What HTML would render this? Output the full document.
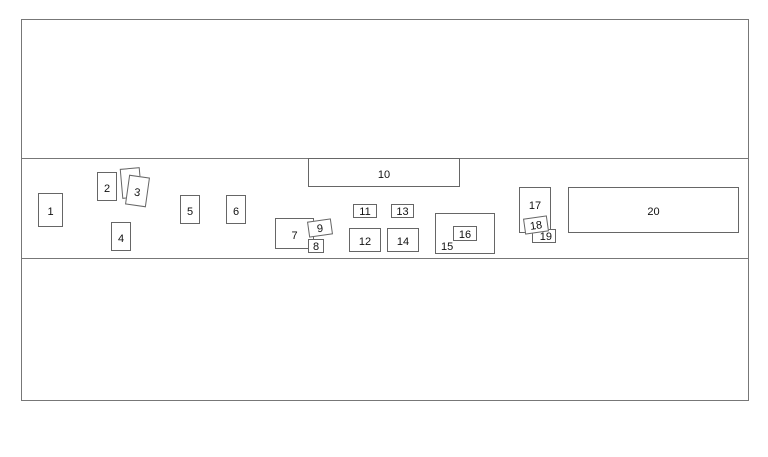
<!DOCTYPE html>
<html><head><style>
body{margin:0;width:768px;height:457px;background:#fff;position:relative;overflow:hidden;font-family:"Liberation Sans",sans-serif;font-size:11px;color:#111}
.b{position:absolute;box-sizing:border-box;border:1px solid #666;background:#fff;display:flex;align-items:center;justify-content:center;padding-top:4px}
.l{position:absolute;left:21px;width:727px;height:1px;background:#777}
</style></head><body>
<div class="b" style="left:21px;top:19px;width:728px;height:382px;border-color:#777"></div>
<div class="l" style="top:158px"></div>
<div class="l" style="top:258px"></div>
<div class="b" style="left:38px;top:193px;width:25px;height:34px">1</div>
<div class="b" style="left:97px;top:172px;width:20px;height:29px">2</div>
<div class="b" style="left:121px;top:168px;width:20px;height:30px;transform:rotate(-5deg)"></div>
<div class="b" style="left:127px;top:176px;width:21px;height:30px;transform:rotate(8deg)">3</div>
<div class="b" style="left:111px;top:222px;width:20px;height:29px">4</div>
<div class="b" style="left:180px;top:195px;width:20px;height:29px">5</div>
<div class="b" style="left:226px;top:195px;width:20px;height:29px">6</div>
<div class="b" style="left:275px;top:218px;width:39px;height:31px">7</div>
<div class="b" style="left:308px;top:239px;width:16px;height:14px;padding-top:2px">8</div>
<div class="b" style="left:308px;top:220px;width:24px;height:16px;transform:rotate(-8deg);padding-top:2px">9</div>
<div class="b" style="left:308px;top:158px;width:152px;height:29px">10</div>
<div class="b" style="left:353px;top:204px;width:24px;height:14px;padding-top:2px">11</div>
<div class="b" style="left:391px;top:204px;width:23px;height:14px;padding-top:2px">13</div>
<div class="b" style="left:349px;top:228px;width:32px;height:24px">12</div>
<div class="b" style="left:387px;top:228px;width:32px;height:24px">14</div>
<div class="b" style="left:435px;top:213px;width:60px;height:41px"><span style="position:absolute;left:5px;top:27px">15</span></div>
<div class="b" style="left:453px;top:226px;width:24px;height:15px;padding-top:2px">16</div>
<div class="b" style="left:519px;top:187px;width:32px;height:46px;align-items:flex-start;padding-top:12px">17</div>
<div class="b" style="left:532px;top:229px;width:24px;height:14px;justify-content:flex-end;padding-right:3px;padding-top:2px">19</div>
<div class="b" style="left:524px;top:217px;width:24px;height:16px;transform:rotate(-8deg);padding-top:2px">18</div>
<div class="b" style="left:568px;top:187px;width:171px;height:46px">20</div>
</body></html>
